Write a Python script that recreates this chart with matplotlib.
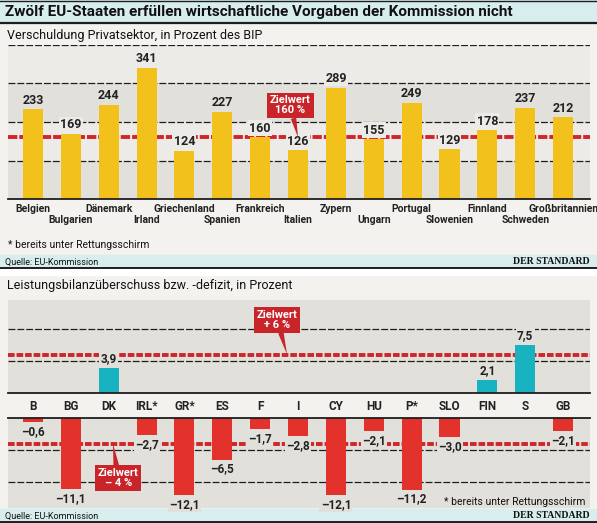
import matplotlib
matplotlib.use("Agg")
import matplotlib.pyplot as plt
from matplotlib.patches import Rectangle
from matplotlib.lines import Line2D
import numpy as np

plt.rcParams['font.family'] = ['Liberation Sans Narrow', 'Roboto', 'DejaVu Sans']

# daten
laender = ["Belgien", "Bulgarien", "Dänemark", "Irland", "Griechenland", "Spanien",
           "Frankreich", "Italien", "Zypern", "Ungarn", "Portugal", "Slowenien",
           "Finnland", "Schweden", "Großbritannien"]
verschuldung = [233, 169, 244, 341, 124, 227, 160, 126, 289, 155, 249, 129, 178, 237, 212]
kuerzel = ["B", "BG", "DK", "IRL*", "GR*", "ES", "F", "I", "CY", "HU", "P*", "SLO",
           "FIN", "S", "GB"]
leistungsbilanz = [-0.6, -11.1, 3.9, -2.7, -12.1, -6.5, -1.7, -2.8, -12.1, -2.1,
                   -11.2, -3.0, 2.1, 7.5, -2.1]
ziel_schulden = 160
ziel_plus = 6
ziel_minus = -4

W, H = 597, 523
page_bg = "#f3f2ee"
band_dark = "#e2e0db"
band_light = "#ecebe7"
plot_gray = "#e2e0db"
bar_yellow = "#f3c11b"
bar_teal = "#18b2c0"
bar_red = "#e2322b"
red_line = "#d0262a"
red_box = "#c8242a"
cyan_bar = "#d8eded"
dark = "#1e1e1e"


def box(l, t, r, b):
    # pixel rect -> figure rect
    return [l / W, 1 - b / H, (r - l) / W, (b - t) / H]


def fy(y):
    return 1 - y / H


fig = plt.figure(figsize=(W / 100, H / 100), dpi=100)
fig.patch.set_facecolor(page_bg)

# title bar + source bars
for (l, t, r, b, c) in [(0, 0, W, 23, cyan_bar), (0, 255, W, 268, cyan_bar),
                        (0, 268, W, 275, "white"), (0, 509, W, 523, cyan_bar)]:
    fig.patches.append(Rectangle((l / W, fy(b)), (r - l) / W, (b - t) / H,
                                 transform=fig.transFigure, color=c, zorder=-1))
for y, lw in [(0.5, 1.0), (23, 1.6), (268, 1.4), (522, 1.4)]:
    fig.add_artist(Line2D([0, 1], [fy(y), fy(y)], color=dark, lw=lw, zorder=-0.5))

fig.text(5 / W, fy(12), "Zwölf EU-Staaten erfüllen wirtschaftliche Vorgaben der Kommission nicht",
         fontsize=11, fontweight="bold", va="center", ha="left", color="#111")
fig.text(7 / W, fy(35), "Verschuldung Privatsektor, in Prozent des BIP",
         fontsize=9, va="center", ha="left", color="#111")
fig.text(8 / W, fy(245), "* bereits unter Rettungsschirm", fontsize=7.5, va="center", color="#111")
fig.text(5 / W, fy(262), "Quelle: EU-Kommission", fontsize=6.5, va="center", color="#111")
fig.text(590 / W, fy(262), "DER STANDARD", fontsize=7, va="center", ha="right",
         family="Liberation Serif", fontweight="bold", color="#111")

fig.text(7 / W, fy(286), "Leistungsbilanzüberschuss bzw. -defizit, in Prozent",
         fontsize=9, va="center", ha="left", color="#111")
fig.text(585 / W, fy(502), "* bereits unter Rettungsschirm", fontsize=7.5, va="center",
         ha="right", color="#111")
fig.text(5 / W, fy(516), "Quelle: EU-Kommission", fontsize=6.5, va="center", color="#111")
fig.text(590 / W, fy(516), "DER STANDARD", fontsize=7, va="center", ha="right",
         family="Liberation Serif", fontweight="bold", color="#111")

x = np.arange(len(laender))
xlim = (-0.66, 14.71)
bw = 0.53


def clean(ax):
    ax.set_xlim(*xlim)
    ax.set_xticks([])
    ax.set_yticks([])
    for s in ax.spines.values():
        s.set_visible(False)


# --- oberes diagramm ---
ax1 = fig.add_axes(box(8, 45, 590, 199))
clean(ax1)
ax1.set_ylim(0, 400)
ax1.set_facecolor("none")
for k in range(4):
    ax1.axhspan(k * 100, (k + 1) * 100, color=band_dark if k % 2 == 0 else band_light, zorder=0, lw=0)
for g in [100, 200, 300, 400]:
    ax1.axhline(g, color=dark, lw=0.9, dashes=(5.5, 1.6), zorder=1)
ax1.axhline(ziel_schulden, color=red_line, lw=2.8, dashes=(2.4, 0.5), zorder=1.5)
ax1.bar(x, verschuldung, width=bw, color=bar_yellow, zorder=2)
ax1.axhline(0, color=dark, lw=1.3, zorder=3, clip_on=False)
for i, v in enumerate(verschuldung):
    bg = band_dark if int((v + 20) // 100) % 2 == 0 else band_light
    ax1.annotate(str(v), (i, v), xytext=(0, 2), textcoords="offset points",
                 ha="center", va="bottom", fontsize=9, fontweight="bold", color="#222",
                 bbox=dict(boxstyle="square,pad=0.1", fc=bg, ec="none"), zorder=4)
    ax1.annotate(laender[i], (i, 0), xytext=(0, -7 if i % 2 == 0 else -15),
                 textcoords="offset points", ha="center", va="center",
                 fontsize=7.5, fontweight="bold", color="#222", annotation_clip=False)
ax1.annotate("Zielwert\n160 %", xy=(7.0, ziel_schulden), xytext=(6.8, 243),
             ha="center", va="center", fontsize=8, fontweight="bold", color="white",
             linespacing=1.0,
             bbox=dict(boxstyle="square,pad=0.25", fc=red_box, ec="none"),
             arrowprops=dict(arrowstyle="wedge,tail_width=0.5,shrink_factor=0.5",
                             fc=red_box, ec="none", shrinkA=0, shrinkB=0), zorder=5)

# --- unteres diagramm ---
pos = [v if v > 0 else np.nan for v in leistungsbilanz]
neg = [v if v < 0 else np.nan for v in leistungsbilanz]

ax2 = fig.add_axes(box(8, 300, 590, 393))
clean(ax2)
ax2.set_ylim(0, 14.5)
ax2.set_facecolor(plot_gray)
for g in [5, 10]:
    ax2.axhline(g, color=dark, lw=0.9, dashes=(5.5, 1.6), zorder=1)
ax2.axhline(ziel_plus, color=red_line, lw=2.8, dashes=(1.7, 0.5), zorder=1.5)
ax2.bar(x, pos, width=bw, color=bar_teal, zorder=2)
ax2.axhline(0, color=dark, lw=1.3, zorder=3, clip_on=False)

ax3 = fig.add_axes(box(8, 418, 590, 508))
clean(ax3)
ax3.set_ylim(-14.06, 0)
ax3.set_facecolor(plot_gray)
for g in [-5, -10]:
    ax3.axhline(g, color=dark, lw=0.9, dashes=(5.5, 1.6), zorder=1)
ax3.axhline(ziel_minus, color=red_line, lw=2.8, dashes=(1.7, 0.5), zorder=1.5)
ax3.bar(x, neg, width=bw, color=bar_red, zorder=2)
ax3.axhline(0, color=dark, lw=1.3, zorder=3, clip_on=False)

for i, v in enumerate(leistungsbilanz):
    txt = f"{abs(v):.1f}".replace(".", ",")
    if v > 0:
        ax2.annotate(txt, (i, v), xytext=(0, 2), textcoords="offset points",
                     ha="center", va="bottom", fontsize=8.5, fontweight="bold", color="#222",
                     bbox=dict(boxstyle="square,pad=0.1", fc=plot_gray, ec="none"), zorder=4)
    else:
        ax3.annotate("\u2013" + txt, (i, v), xytext=(0, -2), textcoords="offset points",
                     ha="center", va="top", fontsize=8.5, fontweight="bold", color="#222",
                     bbox=dict(boxstyle="square,pad=0.1", fc=plot_gray, ec="none"), zorder=4)
    ax2.annotate(kuerzel[i], (i, 0), xytext=(0, -10), textcoords="offset points",
                 ha="center", va="center", fontsize=8.5, fontweight="bold", color="#222",
                 annotation_clip=False)

ax2.annotate("Zielwert\n+ 6 %", xy=(6.71, ziel_plus), xytext=(6.45, 11.4),
             ha="center", va="center", fontsize=8, fontweight="bold", color="white",
             linespacing=1.0,
             bbox=dict(boxstyle="square,pad=0.25", fc=red_box, ec="none"),
             arrowprops=dict(arrowstyle="wedge,tail_width=0.5,shrink_factor=0.5",
                             fc=red_box, ec="none", shrinkA=0, shrinkB=0), zorder=5)
ax3.annotate("Zielwert\n\u2013 4 %", xy=(2.11, ziel_minus), xytext=(2.25, -9.4),
             ha="center", va="center", fontsize=8, fontweight="bold", color="white",
             linespacing=1.0,
             bbox=dict(boxstyle="square,pad=0.25", fc=red_box, ec="none"),
             arrowprops=dict(arrowstyle="wedge,tail_width=0.5,shrink_factor=0.5",
                             fc=red_box, ec="none", shrinkA=0, shrinkB=0), zorder=5)

fig.savefig("out.png", dpi=100, facecolor=fig.get_facecolor())
